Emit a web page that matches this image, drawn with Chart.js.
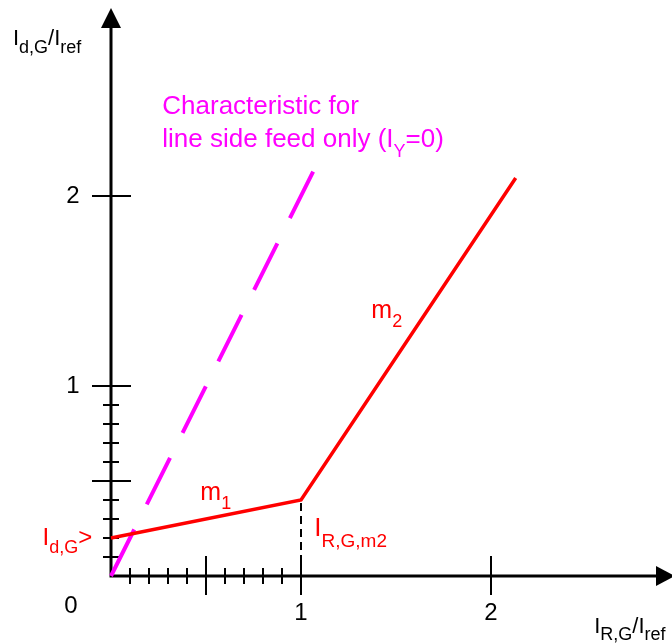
<!DOCTYPE html>
<html>
<head>
<meta charset="utf-8">
<script src="https://cdn.jsdelivr.net/npm/chart.js@4/dist/chart.umd.min.js"></script>
<style>
  html, body { margin: 0; padding: 0; background: #fff; }
  canvas { display: block; }
</style>
</head>
<body>
<canvas id="chart" width="672" height="643"></canvas>
<script>
// differential characteristic, both axes in multiples of I_ref
const charX = [0, 1, 2.13]
const charY = [0.2, 0.4, 2.095]
const lineFeedX = [0, 1.065]
const lineFeedY = [0, 2.13]
const breakX = [1, 1]
const breakY = [0, 0.4]

const xMinorTicks = [0.1, 0.2, 0.3, 0.4, 0.6, 0.7, 0.8, 0.9]
const xMajorTicks = [0.5, 1, 2]
const yMinorTicks = [0.1, 0.2, 0.3, 0.4, 0.6, 0.7, 0.8, 0.9]
const yMajorTicks = [0.5, 1, 2]
const xTickLabels = [1, 2]
const yTickLabels = [1, 2]

const FONT = '"Liberation Sans", Arial, sans-serif'
const pts = (xs, ys) => xs.map((v, i) => ({ x: v, y: ys[i] }))

// draws text with subscripts, parts = [[text, isSub], ...]
function richText(ctx, x, y, parts, size, subSize, drop){
    let cx = x
    for (const [t, sub] of parts) {
        ctx.font = (sub ? subSize : size) + 'px ' + FONT
        ctx.fillText(t, cx, y + (sub ? drop : 0))
        cx += ctx.measureText(t).width
    }
}

const axesPlugin = {
    id: 'axesPlugin',
    beforeDatasetsDraw(chart){
        const { ctx, chartArea, scales: { x, y } } = chart
        const x0 = x.getPixelForValue(0)
        const y0 = y.getPixelForValue(0)
        ctx.save()
        ctx.strokeStyle = '#000'
        ctx.fillStyle = '#000'

        // axis lines
        ctx.lineWidth = 3
        ctx.beginPath()
        ctx.moveTo(x0, y0 + 1.5)
        ctx.lineTo(x0, chartArea.top + 27)
        ctx.moveTo(x0 - 1.5, y0)
        ctx.lineTo(chartArea.right - 15, y0)
        ctx.stroke()

        // arrow heads
        ctx.beginPath()
        ctx.moveTo(x0, chartArea.top + 8)
        ctx.lineTo(x0 - 10, chartArea.top + 28)
        ctx.lineTo(x0 + 10, chartArea.top + 28)
        ctx.closePath()
        ctx.fill()
        ctx.beginPath()
        ctx.moveTo(chartArea.right + 3, y0)
        ctx.lineTo(chartArea.right - 16, y0 - 10)
        ctx.lineTo(chartArea.right - 16, y0 + 10)
        ctx.closePath()
        ctx.fill()

        // ticks
        ctx.lineWidth = 2
        ctx.beginPath()
        xMinorTicks.forEach(v => {
            const px = Math.round(x.getPixelForValue(v))
            ctx.moveTo(px, y0 - 8); ctx.lineTo(px, y0 + 8)
        })
        xMajorTicks.forEach(v => {
            const px = Math.round(x.getPixelForValue(v))
            ctx.moveTo(px, y0 - 20); ctx.lineTo(px, y0 + 19)
        })
        yMinorTicks.forEach(v => {
            const py = Math.round(y.getPixelForValue(v))
            ctx.moveTo(x0 - 8, py); ctx.lineTo(x0 + 8, py)
        })
        yMajorTicks.forEach(v => {
            const py = Math.round(y.getPixelForValue(v))
            ctx.moveTo(x0 - 19, py); ctx.lineTo(x0 + 20, py)
        })
        ctx.stroke()

        // tick labels
        ctx.font = '24px ' + FONT
        ctx.textAlign = 'center'
        ctx.textBaseline = 'middle'
        xTickLabels.forEach(v => ctx.fillText(String(v), x.getPixelForValue(v), y0 + 37))
        yTickLabels.forEach(v => ctx.fillText(String(v), x0 - 38, y.getPixelForValue(v)))
        ctx.fillText('0', x0 - 40, y0 + 30)
        ctx.restore()
    },
    afterDatasetsDraw(chart){
        const { ctx, scales: { x, y } } = chart
        const X = v => x.getPixelForValue(v)
        const Y = v => y.getPixelForValue(v)
        ctx.save()
        ctx.textAlign = 'left'
        ctx.textBaseline = 'alphabetic'

        // axis titles
        ctx.fillStyle = '#000'
        richText(ctx, X(-0.516), 45, [['I'], ['d,G', 1], ['/'], ['I'], ['ref', 1]], 22, 18, 8)
        richText(ctx, X(2.543), Y(0) + 57, [['I'], ['R,G', 1], ['/'], ['I'], ['ref', 1]], 22, 18, 7)

        // line side feed note
        ctx.fillStyle = '#ff00ff'
        richText(ctx, X(0.27), Y(2.43), [['Characteristic for']], 26, 18, 10)
        richText(ctx, X(0.27), Y(2.26), [['line side feed only ('], ['I'], ['Y', 1], ['=0)']], 26, 18, 10)

        // characteristic labels
        ctx.fillStyle = '#ff0000'
        richText(ctx, X(1.37), Y(1.36), [['m'], ['2', 1]], 25, 18, 9)
        richText(ctx, X(0.47), Y(0.4), [['m'], ['1', 1]], 25, 18, 9)
        richText(ctx, X(1.07), Y(0.21), [['I'], ['R,G,m2', 1]], 26, 19, 11)
        richText(ctx, X(-0.36), Y(0.165), [['I'], ['d,G', 1], ['>']], 24, 18, 8)
        ctx.restore()
    }
}

new Chart(document.getElementById('chart'), {
    type: 'scatter',
    data: {
        datasets: [
            {
                data: pts(charX, charY),
                showLine: true,
                borderColor: '#ff0000',
                borderWidth: 3.5,
                borderJoinStyle: 'miter',
                pointRadius: 0
            },
            {
                data: pts(lineFeedX, lineFeedY),
                showLine: true,
                borderColor: '#ff00ff',
                borderWidth: 4,
                borderDash: [52, 28],
                pointRadius: 0
            },
            {
                data: pts(breakX, breakY),
                showLine: true,
                borderColor: '#000',
                borderWidth: 2,
                borderDash: [8, 5],
                pointRadius: 0
            }
        ]
    },
    options: {
        responsive: false,
        animation: false,
        layout: { padding: 0 },
        events: [],
        scales: {
            x: { type: 'linear', min: -111 / 190, max: 561 / 190, display: false },
            y: { type: 'linear', min: -67 / 190, max: 576 / 190, display: false }
        },
        plugins: {
            legend: { display: false },
            tooltip: { enabled: false }
        }
    },
    plugins: [axesPlugin]
})
</script>
</body>
</html>
